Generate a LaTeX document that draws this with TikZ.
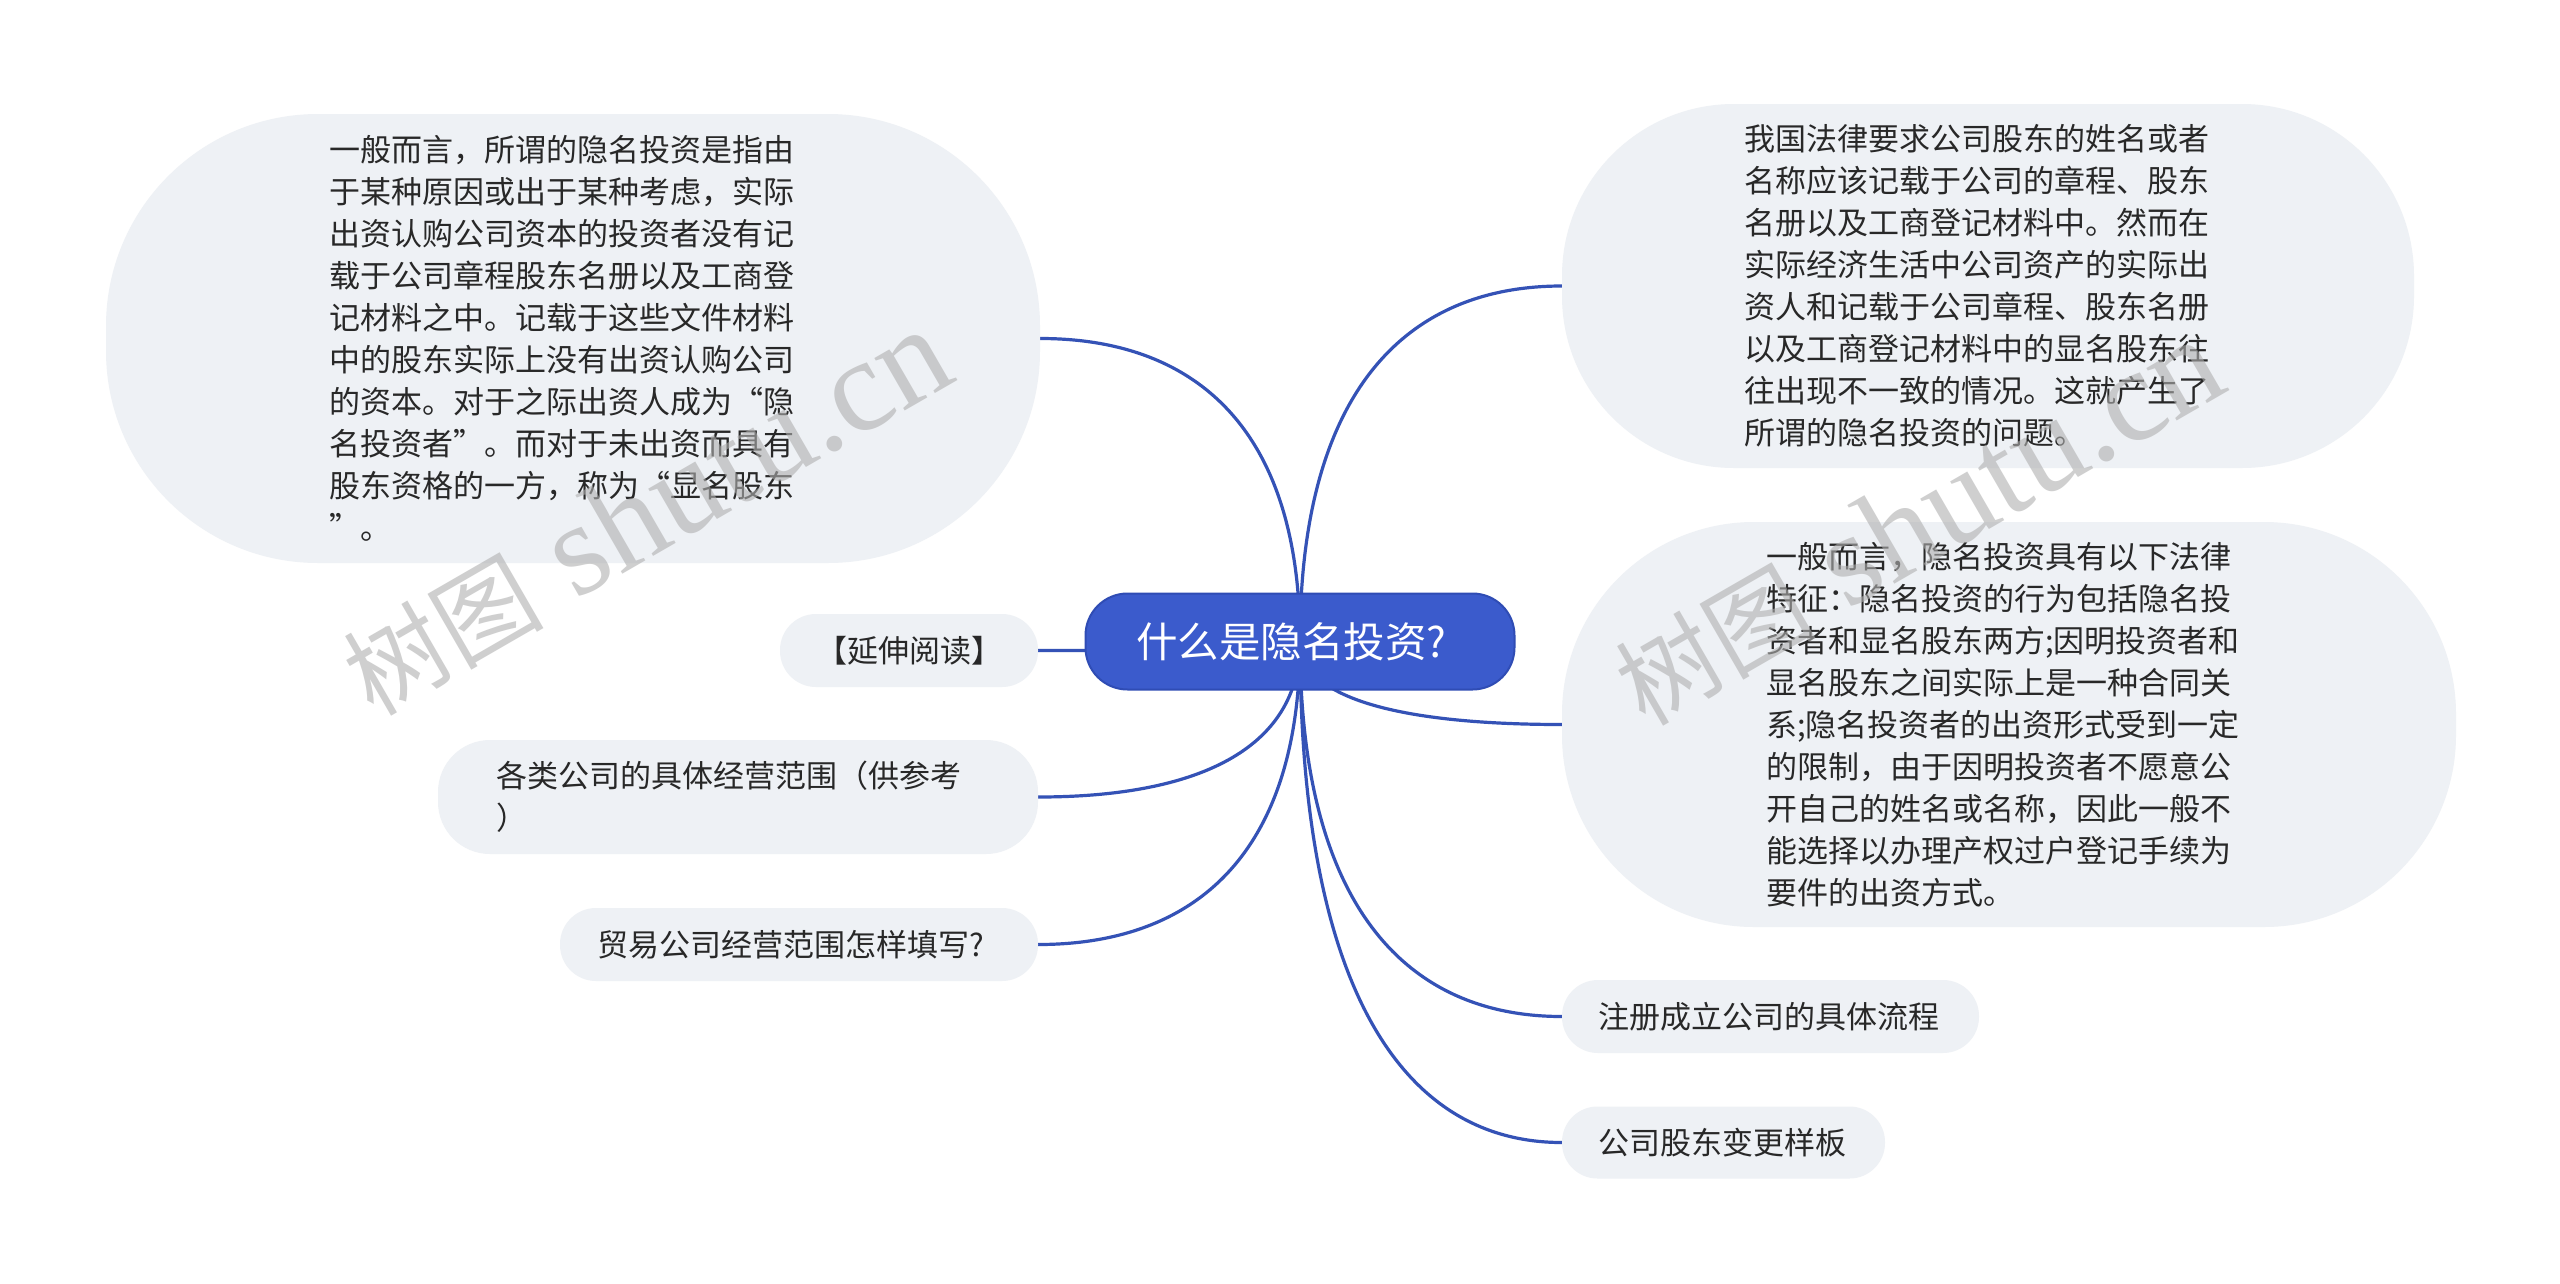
\documentclass[tikz,border=0pt]{standalone}
\usepackage{fontspec}
\setmainfont{Noto Sans CJK SC}
\newfontfamily\wmlatin{Liberation Serif}
\usetikzlibrary{calc}
\pgfdeclarelayer{background}
\pgfdeclarelayer{foreground}
\pgfsetlayers{background,main,foreground}
\definecolor{nodefill}{RGB}{238,241,245}
\definecolor{rootfill}{RGB}{59,91,204}
\definecolor{rootline}{RGB}{47,76,180}
\definecolor{linkcol}{RGB}{52,82,182}
\definecolor{txt}{RGB}{40,40,40}
\definecolor{wmcol}{RGB}{175,175,175}
\begin{document}
\begin{tikzpicture}[x=1pt,y=-1pt,
  bubble/.style={fill=nodefill, draw=none, text=txt, font=\fontsize{31}{42}\selectfont, align=left, inner sep=0pt},
  rootbox/.style={fill=rootfill, draw=rootline, line width=2pt, rounded corners=42pt, text=white, font=\fontsize{41.5}{48}\selectfont, inner sep=0pt, minimum width=429pt, minimum height=96pt, align=left, text width=328pt},
  link/.style={draw=linkcol, line width=3.2pt},
  wmark/.style={text=wmcol, opacity=0.6, rotate=30, inner sep=0pt}
]
\useasboundingbox (0,0) rectangle (2560,1283);

\node[rootbox] (root) at (1300,641.5) {什么是隐名投资?};

\node[bubble, minimum width=934pt, minimum height=449pt, rounded corners=212pt, text width=488pt] (n1) at (573,338.5) {一般而言，所谓的隐名投资是指由\\于某种原因或出于某种考虑，实际\\出资认购公司资本的投资者没有记\\载于公司章程股东名册以及工商登\\记材料之中。记载于这些文件材料\\中的股东实际上没有出资认购公司\\的资本。对于之际出资人成为“隐\\名投资者”。而对于未出资而具有\\股东资格的一方，称为“显名股东\\”。};

\node[bubble, minimum width=852pt, minimum height=364pt, rounded corners=172pt, text width=488pt] (n2) at (1988,286) {我国法律要求公司股东的姓名或者\\名称应该记载于公司的章程、股东\\名册以及工商登记材料中。然而在\\实际经济生活中公司资产的实际出\\资人和记载于公司章程、股东名册\\以及工商登记材料中的显名股东往\\往出现不一致的情况。这就产生了\\所谓的隐名投资的问题。};

\node[bubble, minimum width=894pt, minimum height=405pt, rounded corners=192pt, text width=486pt] (n3) at (2009,724.5) {一般而言，隐名投资具有以下法律\\特征：隐名投资的行为包括隐名投\\资者和显名股东两方;因明投资者和\\显名股东之间实际上是一种合同关\\系;隐名投资者的出资形式受到一定\\的限制，由于因明投资者不愿意公\\开自己的姓名或名称，因此一般不\\能选择以办理产权过户登记手续为\\要件的出资方式。};

\node[bubble, minimum width=258pt, minimum height=73pt, rounded corners=36pt] (n4) at (909,650.5) {【延伸阅读】};
\node[bubble, minimum width=600pt, minimum height=114pt, rounded corners=52pt, text width=484pt] (n5) at (738,797) {各类公司的具体经营范围（供参考\\）};
\node[bubble, minimum width=478pt, minimum height=73pt, rounded corners=36pt, text width=404pt] (n6) at (799,944.5) {贸易公司经营范围怎样填写?};
\node[bubble, minimum width=417pt, minimum height=73pt, rounded corners=36pt, text width=345pt] (n7) at (1770.5,1016.5) {注册成立公司的具体流程};
\node[bubble, minimum width=323pt, minimum height=72pt, rounded corners=35.5pt, text width=251pt] (n8) at (1723.5,1142.5) {公司股东变更样板};

\begin{pgfonlayer}{background}
\fill[white] (0,0) rectangle (2560,1283);
\foreach \t/\a in {n1/east,n2/west,n3/west,n4/east,n5/east,n6/east,n7/west,n8/west}
  \draw[link] (root.center) .. controls ($(root.center)!0.7!(root.center |- \t.\a)$) and ($(\t.\a)!0.6!(root.center |- \t.\a)$) .. (\t.\a);
\end{pgfonlayer}

\begin{pgfonlayer}{foreground}
\node[wmark] (wm1) at (646,512) {{\fontsize{100}{100}\selectfont 树图}{\wmlatin\fontsize{132}{132}\selectfont\ shutu.cn}};
\node[wmark] (wm2) at (1918,522) {{\fontsize{100}{100}\selectfont 树图}{\wmlatin\fontsize{132}{132}\selectfont\ shutu.cn}};
\end{pgfonlayer}
\end{tikzpicture}
\end{document}
